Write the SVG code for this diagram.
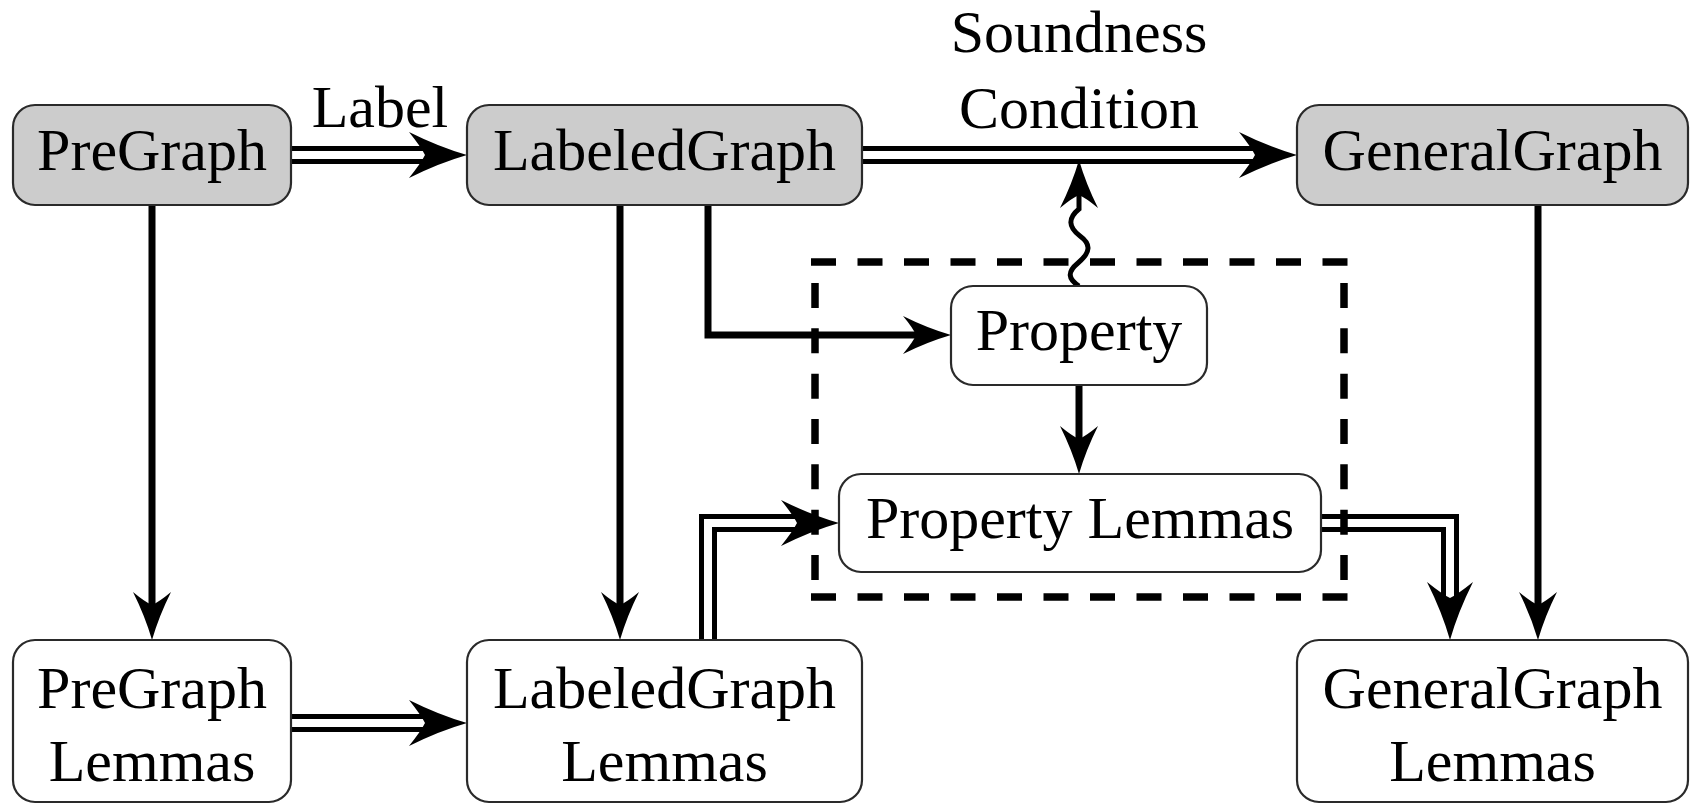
<svg xmlns="http://www.w3.org/2000/svg" width="1696" height="804" viewBox="0 0 1696 804">
  <style>
    .box { stroke: #2a2a2a; stroke-width: 2.2; }
    .shaded { fill: #cccccc; }
    .plain { fill: #ffffff; }
    .lbl { font-family: "Liberation Serif", "Times New Roman", serif; font-size: 60px; fill: #000; text-anchor: middle; }
    .single { fill: none; stroke: #000; stroke-width: 7; stroke-linejoin: miter; }
    .dblOuter { fill: none; stroke: #000; stroke-width: 18; stroke-linejoin: miter; }
    .dblInner { fill: none; stroke: #fff; stroke-width: 8; stroke-linejoin: miter; }
    .wavy { fill: none; stroke: #000; stroke-width: 5; }
    .dash { fill: none; stroke: #000; stroke-width: 7.5; }
  </style>
  <defs>
    <!-- large stealth-style head for double-line arrows -->
    <marker id="headDouble" markerUnits="userSpaceOnUse" viewBox="-40 -30 80 60" markerWidth="80" markerHeight="60" refX="0" refY="0" orient="auto" overflow="visible">
      <path d="M28,0 Q0,-8 -30,-23 Q-18,-8 -14,0 Q-18,8 -30,23 Q0,8 28,0 Z" fill="#000"/>
    </marker>
    <!-- smaller head for single-line arrows -->
    <marker id="headSingle" markerUnits="userSpaceOnUse" viewBox="-30 -25 60 50" markerWidth="60" markerHeight="50" refX="0" refY="0" orient="auto" overflow="visible">
      <path d="M24,0 Q0,-7 -24,-19 Q-14,-7 -11,0 Q-14,7 -24,19 Q0,7 24,0 Z" fill="#000"/>
    </marker>
  </defs>

  <g id="connectors">
    <!-- single-line implications -->
    <path class="single" d="M152,205 V616" marker-end="url(#headSingle)"/>
    <path class="single" d="M620,205 V616" marker-end="url(#headSingle)"/>
    <path class="single" d="M708,205 V335 H927" marker-end="url(#headSingle)"/>
    <path class="single" d="M1079,385 V450" marker-end="url(#headSingle)"/>
    <path class="single" d="M1538,205 V616" marker-end="url(#headSingle)"/>

    <!-- double-line arrows: black body, white core, head on top -->
    <path class="dblOuter" d="M291,155 H439"/>
    <path class="dblInner" d="M291,155 H439" marker-end="url(#headDouble)"/>

    <path class="dblOuter" d="M862,155 H1269"/>
    <path class="dblInner" d="M862,155 H1269" marker-end="url(#headDouble)"/>

    <path class="dblOuter" d="M291,723 H439"/>
    <path class="dblInner" d="M291,723 H439" marker-end="url(#headDouble)"/>

    <path class="dblOuter" d="M708,640 V523 H811"/>
    <path class="dblInner" d="M708,640 V523 H811" marker-end="url(#headDouble)"/>

    <path class="dblOuter" d="M1321,523 H1450 V612"/>
    <path class="dblInner" d="M1321,523 H1450 V612" marker-end="url(#headDouble)"/>

    <!-- squiggly arrow from Property up to the soundness edge -->
    <path class="wavy" d="M1079,286 C1068,279 1067,272 1078,263 C1091,252 1091,244 1080,236 C1068,227 1068,218 1079,209 L1079,184" marker-end="url(#headSingle)"/>
  </g>

  <!-- dashed frame around Property and Property Lemmas -->
  <g id="frame">
    <path class="dash" stroke-dasharray="25 21.5" d="M811,262 H1348"/>
    <path class="dash" stroke-dasharray="25 21.5" d="M811,597 H1348"/>
    <path class="dash" stroke-dasharray="25 20.33" d="M815,283 V580"/>
    <path class="dash" stroke-dasharray="25 20.33" d="M1344,283 V580"/>
  </g>

  <g id="edge-labels">
    <text class="lbl" x="380" y="127">Label</text>
    <text class="lbl" x="1079" y="52">Soundness</text>
    <text class="lbl" x="1079" y="128">Condition</text>
  </g>

  <g id="pregraph">
    <rect class="box shaded" x="13" y="105" width="278" height="100" rx="22"/>
    <text class="lbl" x="152" y="170">PreGraph</text>
  </g>
  <g id="labeledgraph">
    <rect class="box shaded" x="467" y="105" width="395" height="100" rx="22"/>
    <text class="lbl" x="664.5" y="170">LabeledGraph</text>
  </g>
  <g id="generalgraph">
    <rect class="box shaded" x="1297" y="105" width="391" height="100" rx="22"/>
    <text class="lbl" x="1492.5" y="170">GeneralGraph</text>
  </g>
  <g id="property">
    <rect class="box plain" x="951" y="286" width="256" height="99" rx="22"/>
    <text class="lbl" x="1079" y="350">Property</text>
  </g>
  <g id="property-lemmas">
    <rect class="box plain" x="839" y="474" width="482" height="98" rx="22"/>
    <text class="lbl" x="1080" y="538">Property Lemmas</text>
  </g>
  <g id="pregraph-lemmas">
    <rect class="box plain" x="13" y="640" width="278" height="162" rx="22"/>
    <text class="lbl" x="152" y="708">PreGraph</text>
    <text class="lbl" x="152" y="781">Lemmas</text>
  </g>
  <g id="labeledgraph-lemmas">
    <rect class="box plain" x="467" y="640" width="395" height="162" rx="22"/>
    <text class="lbl" x="664.5" y="708">LabeledGraph</text>
    <text class="lbl" x="664.5" y="781">Lemmas</text>
  </g>
  <g id="generalgraph-lemmas">
    <rect class="box plain" x="1297" y="640" width="391" height="162" rx="22"/>
    <text class="lbl" x="1492.5" y="708">GeneralGraph</text>
    <text class="lbl" x="1492.5" y="781">Lemmas</text>
  </g>
</svg>
